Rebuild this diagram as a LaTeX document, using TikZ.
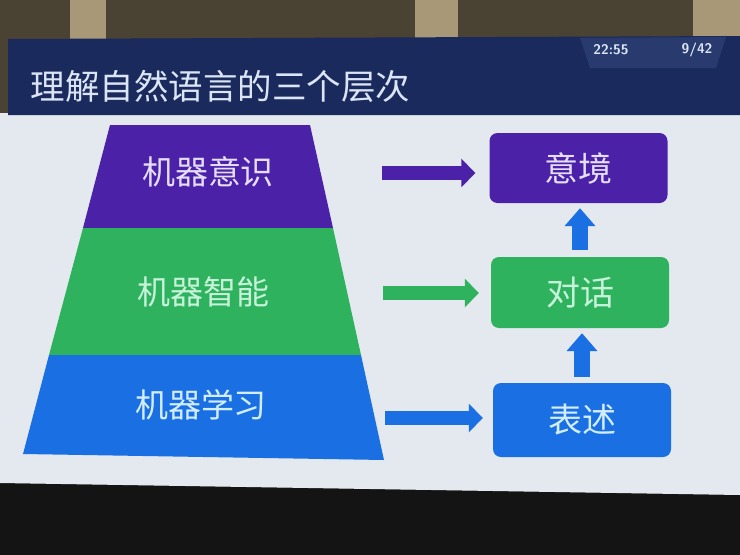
\documentclass[tikz,border=0pt]{standalone}
\usepackage{fontspec}
\newfontfamily\cjk{Noto Sans CJK SC}
\usetikzlibrary{arrows.meta,calc}
\definecolor{wall}{HTML}{4A4232}
\definecolor{pillar}{HTML}{A89878}
\definecolor{navy}{HTML}{1B2A5C}
\definecolor{navylight}{HTML}{283A6E}
\definecolor{slidebg}{HTML}{E3E9EF}
\definecolor{cpurple}{HTML}{4B21A8}
\definecolor{cgreen}{HTML}{2FB25E}
\definecolor{cblue}{HTML}{1A70E2}
\definecolor{ptext}{HTML}{E6DEFA}
\definecolor{gtext}{HTML}{C6F2DA}
\definecolor{btext}{HTML}{D2EDFF}
\definecolor{ttext}{HTML}{DCE5F5}
\tikzset{
  layerlabel/.style={font=\cjk\fontsize{33}{38}\selectfont},
  boxnode/.style={rounded corners=8pt, minimum height=70pt, minimum width=178pt, inner sep=0pt,
    font=\cjk\fontsize{34}{38}\selectfont},
  harrow/.style={line width=14pt, -{Triangle[length=14pt,width=28pt]}},
  varrow/.style={line width=16pt, -{Triangle[length=18pt,width=30pt]}, cblue},
}
\begin{document}
\begin{tikzpicture}[x=1pt,y=-1pt]
\useasboundingbox (0,0) rectangle (740,555);
% surroundings
\fill[wall] (0,0) rectangle (740,555);
\fill[pillar] (70,0) rectangle (106,40);
\fill[pillar] (415,0) rectangle (458,38);
\fill[pillar] (693,0) rectangle (740,36);
\fill[black!92] (0,483) -- (740,495) -- (740,555) -- (0,555) -- cycle;
% slide
\fill[slidebg] (0,113) -- (740,113) -- (740,495) -- (0,483) -- cycle;
\fill[navy] (8,39) -- (740,36) -- (740,115) -- (8,115) -- cycle;
\fill[navylight] (580,38) -- (726,37) -- (716,68) -- (590,68) -- cycle;
\node[text=ttext, anchor=west, font=\cjk\fontsize{34.5}{40}\selectfont] (title) at (27,86) {理解自然语言的三个层次};
\node[text=ttext, font=\sffamily\bfseries\fontsize{14}{16}\selectfont] (time) at (611,50) {22:55};
\node[text=ttext, font=\sffamily\bfseries\fontsize{14}{16}\selectfont] (page) at (697,50) {9/42};
% pyramid
\fill[cpurple] (110,125) -- (310,125) -- (333,228) -- (83,228) -- cycle;
\fill[cgreen] (83,228) -- (333,228) -- (361,355) -- (49,355) -- cycle;
\fill[cblue] (49,355) -- (361,355) -- (384,460) -- (23,454) -- cycle;
\node[layerlabel, text=ptext] (l1) at (208,172) {机器意识};
\node[layerlabel, text=gtext] (l2) at (203,292) {机器智能};
\node[layerlabel, text=btext] (l3) at (201,405) {机器学习};
% boxes
\node[boxnode, fill=cpurple, text=ptext] (b1) at (578.5,168) {意境};
\node[boxnode, fill=cgreen, text=gtext, minimum height=71pt] (b2) at (580,292.5) {对话};
\node[boxnode, fill=cblue, text=btext, minimum height=74pt] (b3) at (582,420) {表述};
% arrows
\coordinate (s1) at (382,173);
\coordinate (s2) at (383,293);
\coordinate (s3) at (385,418);
\draw[harrow, cpurple, shorten >=14pt] (s1) -- (s1 -| b1.west);
\draw[harrow, cgreen, shorten >=12pt] (s2) -- (s2 -| b2.west);
\draw[harrow, cblue, shorten >=10pt] (s3) -- (s3 -| b3.west);
\draw[varrow, shorten <=7pt, shorten >=5pt] (b2.north) -- (b2.north |- b1.south);
\draw[varrow, shorten <=6pt, shorten >=5pt] (b3.north) -- (b3.north |- b2.south);
\end{tikzpicture}
\end{document}
